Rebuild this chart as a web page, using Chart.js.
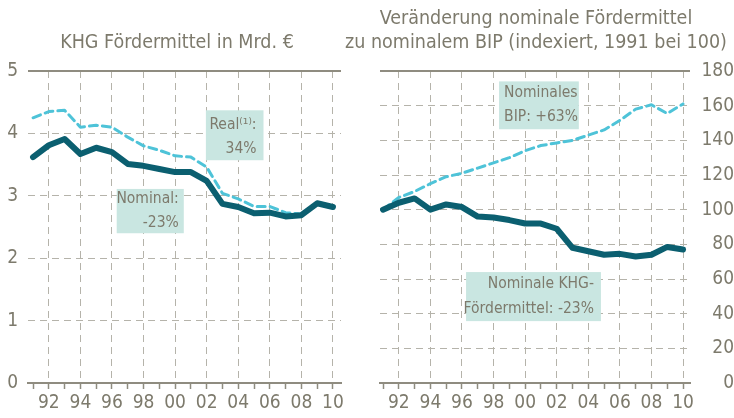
<!DOCTYPE html>
<html>
<head>
<meta charset="utf-8">
<script src="https://cdn.jsdelivr.net/npm/chart.js@4/dist/chart.umd.min.js"></script>
<style>
  body { margin: 0; background: #fff; }
  #wrap { position: relative; width: 734px; height: 418px; overflow: hidden; }
  .panel { position: absolute; top: 0; width: 367px; height: 418px; }
  .title { position: absolute; color: #7d7a6c; font: 19.5px "DejaVu Sans Condensed", "Liberation Sans Narrow", "Noto Sans", sans-serif; text-align: center; line-height: 24px; white-space: nowrap; }
</style>
</head>
<body>
<div id="wrap">
  <div class="panel" style="left:0"><canvas id="chart1" width="367" height="418"></canvas></div>
  <div class="panel" style="left:367px"><canvas id="chart2" width="367" height="418"></canvas></div>
  <div class="title" style="left:-3px; width:360px; top:30px">KHG Fördermittel in Mrd. €</div>
  <div class="title" style="left:336px; width:400px; top:6px">Veränderung nominale Fördermittel<br>zu nominalem BIP (indexiert, 1991 bei 100)</div>
</div>
<script>
// Datos
const years = [1991, 1992, 1993, 1994, 1995, 1996, 1997, 1998, 1999, 2000, 2001, 2002, 2003, 2004, 2005, 2006, 2007, 2008, 2009, 2010]
const nominalMrd = [3.62, 3.81, 3.91, 3.67, 3.77, 3.70, 3.51, 3.48, 3.43, 3.38, 3.38, 3.24, 2.87, 2.82, 2.72, 2.73, 2.67, 2.69, 2.88, 2.82]
const realMrd = [4.25, 4.35, 4.37, 4.10, 4.13, 4.10, 3.94, 3.80, 3.73, 3.64, 3.62, 3.46, 3.04, 2.95, 2.83, 2.83, 2.73, 2.71, 2.88, 2.82]
const nominalIndex = [100, 104, 106.5, 100, 103, 101.5, 96, 95.5, 94, 92, 92, 89, 78, 76, 74, 74.5, 73, 74, 78.5, 77]
const bipIndex = [100, 107, 110.5, 115, 119, 121, 124, 127, 130, 134, 137, 138.5, 140, 143, 146, 151.5, 158, 160.5, 155.5, 161]

// Colores
const textGray = '#7d7a6c'
const gridGray = '#b5b3aa'
const axisGray = '#8f8c80'
const darkTeal = '#0b5f70'
const lightCyan = '#4ec3d8'
const boxFill = '#c9e6e1'
const fontFamily = '"DejaVu Sans Condensed", "Liberation Sans Narrow", "Noto Sans", sans-serif'

Chart.defaults.font.family = fontFamily
Chart.defaults.color = textGray

// Cajas de texto en coordenadas de datos
function notesPlugin(items) {
    return {
        id: 'notes',
        beforeDatasetsDraw(chart) {
            const { ctx, scales: { x, y } } = chart
            items.forEach(n => {
                const l = x.getPixelForValue(n.x0), r = x.getPixelForValue(n.x1)
                const t = y.getPixelForValue(n.y0), b = y.getPixelForValue(n.y1)
                ctx.save()
                ctx.fillStyle = boxFill
                ctx.fillRect(l, t, r - l, b - t)
                ctx.fillStyle = textGray
                ctx.font = '15.5px ' + fontFamily
                ctx.textAlign = n.align
                ctx.textBaseline = 'middle'
                const tx = n.align === 'right' ? r - n.pad : l + n.pad
                n.lines.forEach((s, i) => ctx.fillText(s, tx, t + n.first + i * n.step))
                ctx.restore()
            })
        }
    }
}

function xScale(min, max) {
    return {
        type: 'linear', min, max,
        afterBuildTicks: s => { s.ticks = years.map(v => ({ value: v })) },
        afterFit: s => { s.height = 35 },
        grid: {
            color: c => c.tick && c.tick.value % 2 === 0 ? gridGray : 'rgba(0,0,0,0)',
            lineWidth: 1,
            tickColor: axisGray,
            tickWidth: 1.5,
            tickLength: 6
        },
        border: { color: axisGray, width: 2, dash: [7, 5] },
        ticks: {
            color: textGray, padding: 3, maxRotation: 0, autoSkip: false,
            font: { size: 19 },
            callback: v => v % 2 === 0 ? String(v).slice(2) : ''
        }
    }
}

function yGrid(top) {
    return {
        drawTicks: false,
        color: c => c.tick.value === 0 ? 'rgba(0,0,0,0)' : (c.tick.value === top ? axisGray : gridGray),
        lineWidth: c => c.tick.value === top ? 2 : 1
    }
}

function lineSet(data, label, dashed) {
    return {
        label, data: years.map((yr, i) => ({ x: yr, y: data[i] })),
        borderColor: dashed ? lightCyan : darkTeal,
        borderWidth: dashed ? 3 : 6,
        borderDash: dashed ? [8, 5] : [],
        borderCapStyle: 'round', borderJoinStyle: 'round',
        pointRadius: 0, tension: 0
    }
}

// Gráfico izquierdo
new Chart('chart1', {
    type: 'line',
    data: { datasets: [lineSet(nominalMrd, 'Nominal', false), lineSet(realMrd, 'Real', true)] },
    options: {
        responsive: false, animation: false,
        layout: { padding: { top: 71, right: 26, left: 0, bottom: 0 } },
        plugins: { legend: { display: false }, tooltip: { enabled: false } },
        scales: {
            x: xScale(1990.68, 2010.51),
            y: {
                min: 0, max: 5,
                afterFit: s => { s.width = 28 },
                ticks: { stepSize: 1, padding: 10, color: textGray, font: { size: 19 } },
                grid: yGrid(5),
                border: { display: false, dash: c => c.tick && c.tick.value === 5 ? [] : [7, 5] }
            }
        }
    },
    plugins: [notesPlugin([
        { x0: 2001.95, x1: 2005.6, y0: 4.37, y1: 3.57, lines: ['Real⁽¹⁾:', '34%'], align: 'right', pad: 7, first: 15, step: 24 },
        { x0: 1996.3, x1: 2000.55, y0: 3.11, y1: 2.40, lines: ['Nominal:', '-23%'], align: 'right', pad: 5, first: 10, step: 24 }
    ])]
})

// Gráfico derecho
new Chart('chart2', {
    type: 'line',
    data: { datasets: [lineSet(nominalIndex, 'Nominale KHG-Fördermittel', false), lineSet(bipIndex, 'Nominales BIP', true)] },
    options: {
        responsive: false, animation: false,
        layout: { padding: { top: 71, right: 0, left: 13, bottom: 0 } },
        plugins: { legend: { display: false }, tooltip: { enabled: false } },
        scales: {
            x: xScale(1990.81, 2010.44),
            y: {
                position: 'right',
                min: 0, max: 180,
                afterFit: s => { s.width = 44 },
                ticks: { stepSize: 20, padding: 12, crossAlign: 'far', color: textGray, font: { size: 19 } },
                grid: yGrid(180),
                border: { display: false, dash: c => c.tick && c.tick.value === 180 ? [] : [7, 5] }
            }
        }
    },
    plugins: [notesPlugin([
        { x0: 1998.35, x1: 2003.4, y0: 174, y1: 146.4, lines: ['Nominales', 'BIP: +63%'], align: 'left', pad: 5, first: 12, step: 24 },
        { x0: 1996.26, x1: 2004.8, y0: 64, y1: 35.7, lines: ['Nominale KHG-', 'Fördermittel: -23%'], align: 'right', pad: 7, first: 12, step: 25 }
    ])]
})
</script>
</body>
</html>
